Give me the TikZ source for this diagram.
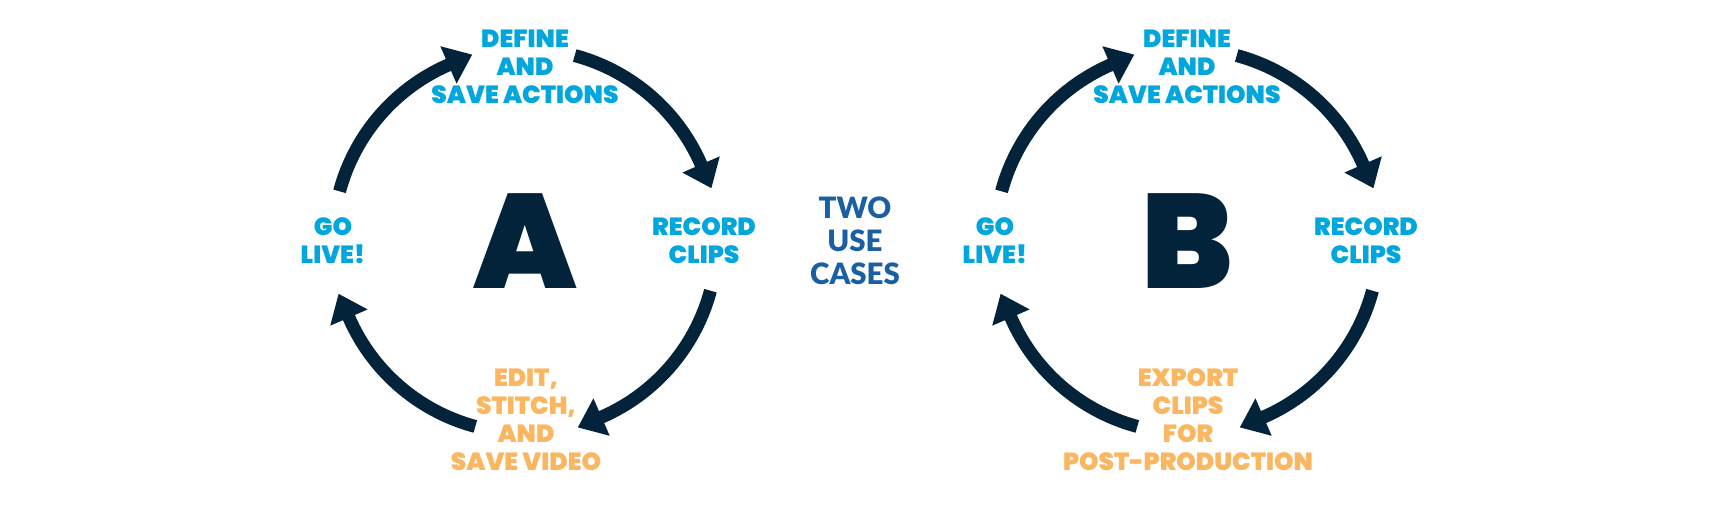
\documentclass[tikz,border=0pt]{standalone}
\usepackage{fontspec}
\usepackage{xcolor}
\usepackage{tikz}
\usetikzlibrary{arrows.meta}
\newfontfamily\heavyfont{Poppins Black}
\newfontfamily\titlefont{Lato Black}
\definecolor{navy}{HTML}{02233A}
\definecolor{stepblue}{HTML}{00A6DC}
\definecolor{steporange}{HTML}{FAB660}
\definecolor{titleblue}{HTML}{1B5FA3}

\begin{document}
\begin{tikzpicture}[x = 0.5pt, y = 0.5pt,
		cycleline/.style = {navy, line width = 6.5pt},
		cycletip/.style = {navy, line width = 6.5pt, -{Triangle[length = 13pt, width = 19.5pt]}},
		steplabel/.style = {align = center, inner sep = 0pt, font = \heavyfont\fontsize{12.4}{14}\selectfont},
		caseletter/.style = {navy, inner sep = 0pt, font = \heavyfont\fontsize{67}{67}\selectfont}
	]
					\def\rad{96pt};
					\def\shiftB{662};

					\newcommand{\drawCycleArc}[3]
					{
						\draw [cycleline] (#1) ++(#2:\rad) arc [start angle = #2, end angle = #3-1.5, radius = \rad];
						\draw [cycletip] (#1) ++(#3:\rad) -- ++(#3-90:13pt)
					}

					\newcommand{\drawCycle}[1]
					{
						\drawCycleArc{#1}{165}{113.5};
						\drawCycleArc{#1}{75}{23.5};
						\drawCycleArc{#1}{-15}{-66.5};
						\drawCycleArc{#1}{-105}{-156.5};
					}

					\useasboundingbox (0,0) rectangle (1718,504);

					\coordinate (centerA) at (525,263);
					\coordinate (centerB) at (525+\shiftB,263);

					% case A
					\begin{scope}
						\drawCycle{centerA};
						\node [caseletter] (letterA) at (centerA) {A};
						\node [steplabel, stepblue] (defineA) at (525,437) {DEFINE\\AND\\SAVE ACTIONS};
						\node [steplabel, stepblue] (recordA) at (704,263) {RECORD\\CLIPS};
						\node [steplabel, stepblue] (goA) at (333,263) {GO\\LIVE!};
						\node [steplabel, steporange] (editA) at (526,84) {EDIT,\\STITCH,\\AND\\SAVE VIDEO};
					\end{scope}

					% case B
					\begin{scope}
						\drawCycle{centerB};
						\node [caseletter] (letterB) at (centerB) {B};
						\node [steplabel, stepblue] (defineB) at (525+\shiftB,437) {DEFINE\\AND\\SAVE ACTIONS};
						\node [steplabel, stepblue] (recordB) at (704+\shiftB,263) {RECORD\\CLIPS};
						\node [steplabel, stepblue] (goB) at (333+\shiftB,263) {GO\\LIVE!};
						\node [steplabel, steporange] (exportB) at (526+\shiftB,84) {EXPORT\\CLIPS\\FOR\\POST-PRODUCTION};
					\end{scope}

					\node [align = center, inner sep = 0pt, titleblue, font = \titlefont\fontsize{14.7}{16.5}\selectfont] (title) at (855,263) {TWO\\USE\\CASES};
				\end{tikzpicture}
\end{document}
